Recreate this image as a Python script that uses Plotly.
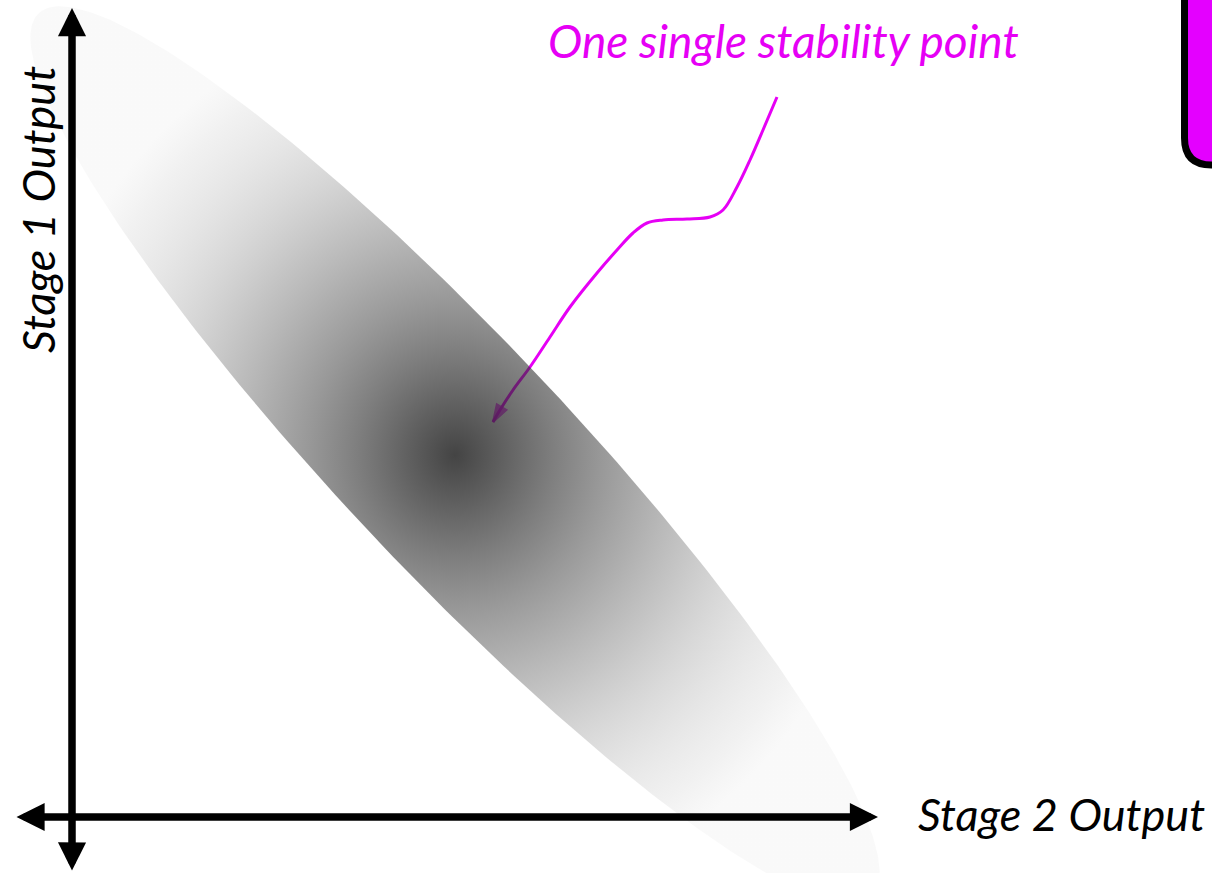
import numpy as np
import plotly.graph_objects as go

# ---- data (diagram coordinates, origin at the axes crossing) ----
ellipse_center = (383, 362)
ellipse_semi_axes = (607, 115)
ellipse_angle_deg = -46.7
# radial shading: distance from centre -> grey level
shade_radius = [0, 50, 100, 150, 200, 250, 300, 350, 400, 437]
shade_grey = [68, 97, 126, 152, 175, 196, 215, 230, 241, 249]

curve_x = [705, 691, 678, 665, 651, 638, 615, 591, 575, 561, 545, 525, 498, 478, 458, 441, 428, 421]
curve_y = [720, 687, 657, 630, 607, 600, 598, 597, 594, 584, 567, 544, 510, 480, 450, 427, 407, 395]

x_axis_span = (-57, 806)
y_axis_span = (-55, 809)

label_x = "Stage 2 Output"
label_y = "Stage 1 Output"
note_text = "One single stability point"

MAGENTA = "#e600f5"
BOX_MAGENTA = "#e400ff"

# ---- ellipse outline ----
t = np.linspace(0, 2 * np.pi, 361)
a, b = ellipse_semi_axes
th = np.deg2rad(ellipse_angle_deg)
ex = ellipse_center[0] + a * np.cos(t) * np.cos(th) - b * np.sin(t) * np.sin(th)
ey = ellipse_center[1] + a * np.cos(t) * np.sin(th) + b * np.sin(t) * np.cos(th)

K = 27.0
rmax = shade_radius[-1]
cscale = []
for r, g in zip(shade_radius, shade_grey):
    alpha = 1 - (g - K) / 255.0
    c = min(255, K / alpha)
    cscale.append([r / rmax, f"rgba({c:.0f},{c:.0f},{c:.0f},{alpha:.3f})"])

fig = go.Figure()

sizes = [0] * (len(curve_x) - 1) + [18]
fig.add_trace(go.Scatter(
    x=curve_x, y=curve_y, mode="lines+markers",
    line=dict(color=MAGENTA, width=3, shape="spline", smoothing=1.0),
    marker=dict(symbol="arrow", size=sizes, angleref="previous", color=MAGENTA,
                line=dict(color=MAGENTA, width=2)),
    hoverinfo="skip", showlegend=False,
))

fig.add_trace(go.Scatter(
    x=ex, y=ey, mode="lines", fill="toself",
    line=dict(width=0, color="rgba(0,0,0,0)"),
    fillgradient=dict(type="radial", colorscale=cscale),
    hoverinfo="skip", showlegend=False,
))

# axes arrows
for (x0, y0, x1, y1) in [(x_axis_span[0], 0, x_axis_span[1], 0),
                         (0, y_axis_span[0], 0, y_axis_span[1])]:
    fig.add_annotation(
        x=x1, y=y1, ax=x0, ay=y0, xref="x", yref="y", axref="x", ayref="y",
        text="", showarrow=True, arrowside="end+start",
        arrowhead=2, startarrowhead=2, arrowsize=0.75, startarrowsize=0.75,
        arrowwidth=7.5, arrowcolor="black",
    )

fig.add_annotation(x=844, y=3, xref="x", yref="y", text=label_x, showarrow=False,
                   xanchor="left", yanchor="middle",
                   font=dict(family="Lato", size=45, style="italic", color="black"))
fig.add_annotation(x=-34, y=607, xref="x", yref="y", text=label_y, showarrow=False,
                   textangle=-90, xanchor="center", yanchor="middle",
                   font=dict(family="Lato", size=45, style="italic", color="black"))
fig.add_annotation(x=711, y=777, xref="x", yref="y", text=note_text, showarrow=False,
                   xanchor="center", yanchor="middle",
                   font=dict(family="Lato", size=46, style="italic", color=MAGENTA))

# partially visible magenta box, top right
fig.add_shape(type="path", xref="x", yref="y",
              path="M 1112.5,900 L 1112.5,679 Q 1112.5,652 1139.5,652 L 1200,652 L 1200,900 Z",
              fillcolor=BOX_MAGENTA, line=dict(color="black", width=7), layer="above")

fig.update_xaxes(range=[-72, 1140], visible=False, fixedrange=True)
fig.update_yaxes(range=[-56, 817], visible=False, fixedrange=True)
fig.update_layout(width=1212, height=873, margin=dict(l=0, r=0, t=0, b=0),
                  paper_bgcolor="white", plot_bgcolor="white", showlegend=False)

fig.write_html("out.html", config={"displayModeBar": False},
               post_script="document.body.style.margin='0';document.body.style.overflow='hidden';")
